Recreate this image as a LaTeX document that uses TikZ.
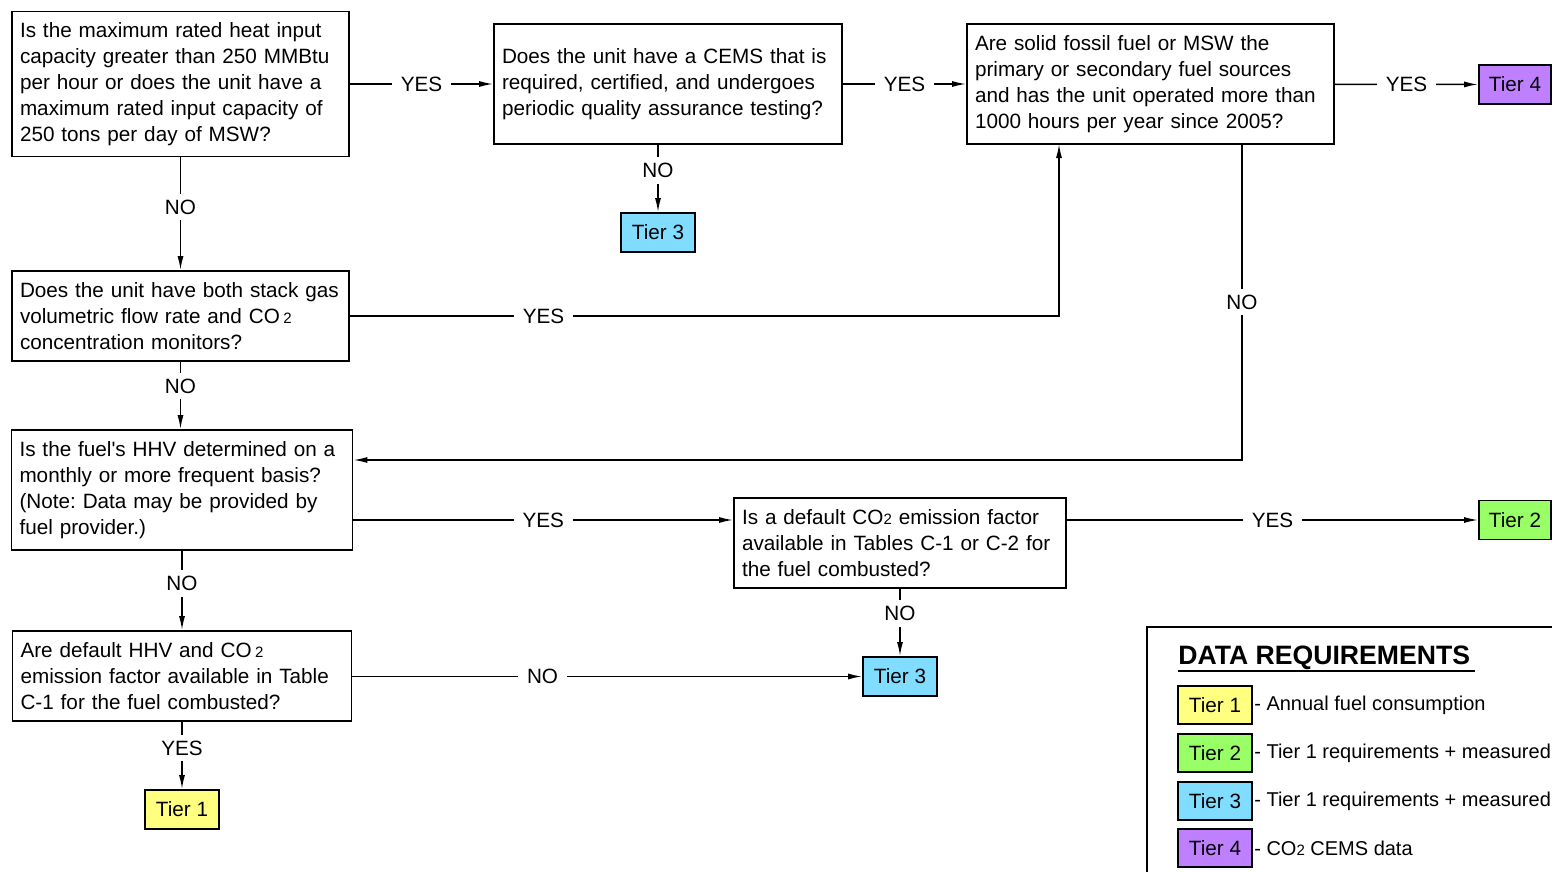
\documentclass[tikz,border=0pt]{standalone}
\usepackage{fontspec}
\setmainfont{Liberation Sans}
\usetikzlibrary{arrows.meta}
\definecolor{tierone}{HTML}{FFFF80}
\definecolor{tiertwo}{HTML}{99FF66}
\definecolor{tierthree}{HTML}{80DDFF}
\definecolor{tierfour}{HTML}{BF80FF}
\frenchspacing
\newcommand{\qfont}{\fontsize{10.35}{13}\selectfont}
\newcommand{\lfont}{\fontsize{10}{12}\selectfont}
\newcommand{\cotwo}{CO{\fontsize{7.5}{9}\selectfont 2}}
\tikzstyle{question}=[rectangle, draw, line width=0.9pt, inner xsep=4pt, inner ysep=0pt, align=left, font=\qfont]
\tikzstyle{tier}=[rectangle, draw, line width=0.9pt, minimum width=37pt, minimum height=19.5pt, inner sep=0pt, font=\qfont]
\tikzstyle{answer}=[fill=white, inner xsep=4.5pt, inner ysep=3pt, font=\qfont]
\newcommand{\question}{\node[question]}
\newcommand{\tier}{\node[tier]}

\begin{document}
\begin{tikzpicture}[x=0.5pt, y=-0.5pt
  ,every edge/.style={draw, line width=0.75pt, -{Latex[length=7pt,width=3pt]}}
]
\useasboundingbox (0,0) rectangle (1552,872);
% questions
\question[text width=160.5pt, minimum height=72.5pt] (q1) at (180.5,84)
  {Is the maximum rated heat input\\capacity greater than 250 MMBtu\\per hour or does the unit have a\\maximum rated input capacity of\\250 tons per day of MSW?};
\question[text width=166pt, minimum height=60pt] (q2) at (668,84)
  {Does the unit have a CEMS that is\\required, certified, and undergoes\\periodic quality assurance testing?};
\question[text width=175.5pt, minimum height=60pt] (q3) at (1150.5,84)
  {Are solid fossil fuel or MSW the\\primary or secondary fuel sources\\and has the unit operated more than\\1000 hours per year since 2005?};
\question[text width=160.5pt, minimum height=45pt] (q4) at (180.5,316)
  {Does the unit have both stack gas\\volumetric flow rate and CO\,{\fontsize{7.5}{9}\selectfont 2}\\concentration monitors?};
\question[text width=162.5pt, minimum height=60pt] (q5) at (182,490)
  {Is the fuel\textquotesingle s HHV determined on a\\monthly or more frequent basis?\\(Note: Data may be provided by\\fuel provider.)};
\question[text width=158pt, minimum height=45pt] (q6) at (900,543)
  {Is a default \cotwo{} emission factor\\available in Tables C-1 or C-2 for\\the fuel combusted?};
\question[text width=161.5pt, minimum height=45pt] (q7) at (182,676)
  {Are default HHV and CO\,{\fontsize{7.5}{9}\selectfont 2}\\emission factor available in Table\\C-1 for the fuel combusted?};
% tiers
\tier[fill=tierthree] (t3a) at (658,232.5) {Tier 3};
\tier[fill=tierfour, minimum width=36pt] (t4) at (1515,84.5) {Tier 4};
\tier[fill=tiertwo, minimum width=36pt] (t2) at (1515,520) {Tier 2};
\tier[fill=tierthree] (t3b) at (900,676.5) {Tier 3};
\tier[fill=tierone] (t1) at (182,809.5) {Tier 1};
\coordinate (q3in) at (1059,144);
\coordinate (q3out) at (1242,144);
\path
(q1) edge node[answer]{YES} (q2)
(q2) edge node[answer]{YES} (q3)
(q3) edge node[answer]{YES} (t4)
(t3a |- q2.south) edge node[answer, pos=0.38]{NO} (t3a)
(q1) edge node[answer, pos=0.44]{NO} (q4)
(q4.south) edge node[answer, pos=0.36]{NO} (q4.south |- q5.north)
(q5.east |- t2) edge node[answer]{YES} (q6.west |- t2)
(q6.east |- t2) edge node[answer]{YES} (t2)
(q5) edge node[answer, pos=0.41]{NO} (q7)
(q6) edge node[answer, pos=0.37]{NO} (t3b)
(q7.east |- t3b) edge node[answer, pos=0.373]{NO} (t3b)
(q7) edge node[answer, pos=0.39]{YES} (t1)
;
\draw[line width=0.75pt, -{Latex[length=7pt,width=3pt]}]
  (q4.east) -- node[answer, pos=0.273]{YES} (q4.east -| q3in) -- (q3in);
\draw[line width=0.75pt, -{Latex[length=7pt,width=3pt]}]
  (q3out) -- node[answer]{NO} (q3out |- 0,460) -- (q5.east |- 0,460);
% data requirements
\draw[line width=0.7pt] (1147,872) -- (1147,627) -- (1552,627);
\node[anchor=west, inner sep=0pt, font=\fontsize{13.3}{15}\selectfont\bfseries] (ttl) at (1178,658) {DATA REQUIREMENTS};
\draw[line width=0.7pt] (1178,671) -- (1475,671);
\tier[fill=tierone, minimum height=19pt] (l1) at (1215,705) {Tier 1};
\tier[fill=tiertwo, minimum height=19pt] (l2) at (1215,753) {Tier 2};
\tier[fill=tierthree, minimum height=19pt] (l3) at (1215,801) {Tier 3};
\tier[fill=tierfour, minimum height=19pt] (l4) at (1215,848) {Tier 4};
\node[anchor=west, inner xsep=0.5pt, font=\lfont] (d1) at (l1.east) {- Annual fuel consumption};
\node[anchor=west, inner xsep=0.5pt, font=\lfont] (d2) at (l2.east) {- Tier 1 requirements + measured};
\node[anchor=west, inner xsep=0.5pt, font=\lfont] (d3) at (l3.east) {- Tier 1 requirements + measured};
\node[anchor=west, inner xsep=0.5pt, font=\lfont] (d4) at (l4.east) {- \cotwo{} CEMS data};
\end{tikzpicture}
\end{document}
